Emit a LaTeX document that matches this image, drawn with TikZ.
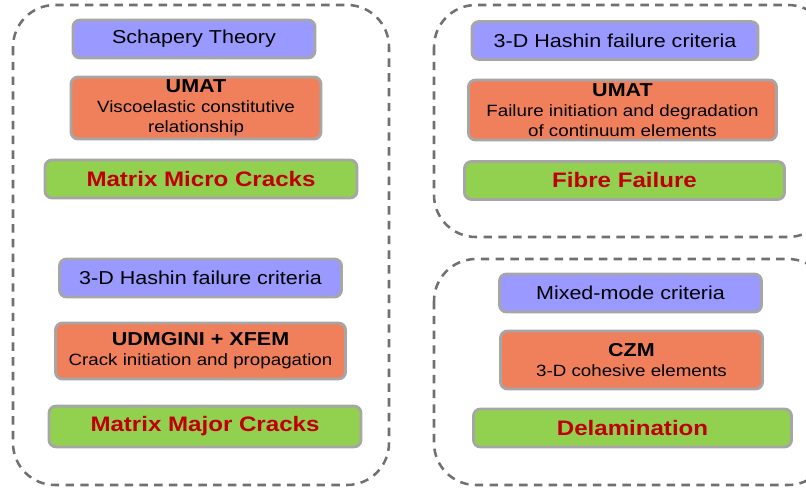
\documentclass[tikz,border=0pt]{standalone}
\usepackage{xcolor}
\usepackage{fontspec}
\setmainfont{Liberation Sans}[FakeStretch=1.15]
\usepackage{tikz}
\usetikzlibrary{shapes,positioning,backgrounds}
\definecolor{theory}{RGB}{153,153,255}
\definecolor{model}{RGB}{240,128,92}
\definecolor{mode}{RGB}{146,208,80}
\definecolor{modetext}{RGB}{192,0,0}
\definecolor{edge}{RGB}{166,166,166}
\definecolor{groupline}{RGB}{112,112,112}

\newcommand{\subtext}{\fontsize{11.6}{14.2}\selectfont}

\tikzset{
    box/.style={draw=edge, line width=2pt, rounded corners=5pt, align=center,
        inner sep=0pt, font=\fontsize{13.3}{14.2}\selectfont},
    theorybox/.style={box, fill=theory, minimum height=0.95cm},
    modelbox/.style={box, fill=model},
    modebox/.style={box, fill=mode, minimum height=0.95cm,
        text=modetext, font=\fontsize{14.9}{16}\selectfont\bfseries},
    group/.style={draw=groupline, line width=1.8pt, dash pattern=on 6pt off 4.5pt,
        rounded corners=1.05cm}
}

\begin{document}
\begin{tikzpicture}[x=0.025cm, y=-0.025cm]
    \useasboundingbox (0,0) rectangle (806,490);
    \clip (0,0) rectangle (806,490);

    % Groups
    \draw[group] (13,5) rectangle (389,485);
    \draw[group] (434,5) rectangle (830,237);
    \draw[group] (434,259) rectangle (830,485);

    % Matrix micro cracks
    \node[theorybox, minimum width=6.05cm] (schapery) at (194,39) {Schapery Theory};
    \node[modelbox, minimum width=6.25cm, minimum height=1.55cm] (umatL) at (196,108)
        {\textbf{UMAT}\\{\subtext Viscoelastic constitutive}\\{\subtext relationship}};
    \node[modebox, minimum width=7.8cm] (micro) at (201,179) {Matrix Micro Cracks};

    % Matrix major cracks
    \node[theorybox, minimum width=7.05cm] (hashinL) at (200.5,278) {3-D Hashin failure criteria};
    \node[modelbox, minimum width=7.25cm, minimum height=1.4cm] (xfem) at (200.5,351)
        {\textbf{UDMGINI + XFEM}\\{\subtext Crack initiation and propagation}};
    \node[modebox, minimum width=7.8cm, minimum height=1.02cm] (major) at (205,426.5) {Matrix Major Cracks};

    % Fibre failure
    \node[theorybox, minimum width=7.15cm] (hashinR) at (615,40.5) {3-D Hashin failure criteria};
    \node[modelbox, minimum width=7.7cm, minimum height=1.5cm] (umatR) at (622.5,110)
        {\textbf{UMAT}\\{\subtext Failure initiation and degradation}\\{\subtext of continuum elements}};
    \node[modebox, minimum width=8.0cm] (fibre) at (624.5,180.5) {Fibre Failure};

    % Delamination
    \node[theorybox, minimum width=6.55cm] (mixed) at (630.5,293) {Mixed-mode criteria};
    \node[modelbox, minimum width=6.55cm, minimum height=1.45cm] (czm) at (631.5,360)
        {\textbf{CZM}\\{\subtext 3-D cohesive elements}};
    \node[modebox, minimum width=7.95cm] (delam) at (632.5,428) {Delamination};
\end{tikzpicture}
\end{document}
